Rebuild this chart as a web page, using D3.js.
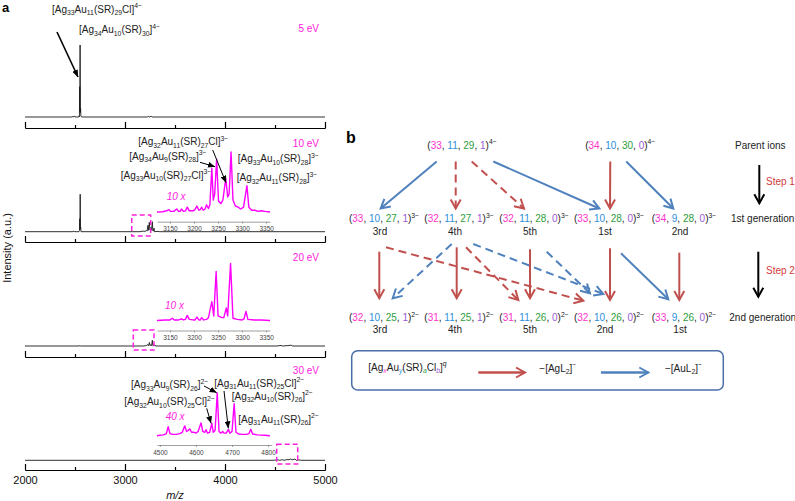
<!DOCTYPE html>
<html><head><meta charset="utf-8">
<script src="https://cdn.jsdelivr.net/npm/d3@7"></script>
<style>
body{margin:0;background:#fff}
svg{display:block}
text{font-family:"Liberation Sans",Arial,Helvetica,sans-serif}
</style>
</head><body>
<svg id="c" width="795" height="501"></svg>
<script>
// ---------------- DATA ----------------
const energies = ["5 eV", "10 eV", "20 eV", "30 eV"];
const mainTicks = [2000, 3000, 4000, 5000];
const minorTicks = [2500, 3500, 4500];
const insetTicksLow = [3150, 3200, 3250, 3300, 3350];
const insetTicksHigh = [4500, 4600, 4700, 4800];
const insetFactors = ["10 x", "10 x", "40 x"];

// main spectra [m/z, relative intensity]
const spec5 = [[2000,0],[2470,0],[2480,0.8],[2488,0],[2495,1.5],[2502,0],[2536,0],[2540,1.5],[2544,0.5],[2547,42],[2549,8],[2551,100],[2553,6],[2556,12],[2559,1],[2570,0],[3220,0],[3235,0.8],[3242,0],[3262,1],[3270,0],[5000,0]];
const spec10 = [[2000,0],[2480,0],[2490,1],[2497,0],[2540,0],[2545,1.5],[2548,18],[2550,3],[2552,52],[2554,4],[2557,6],[2560,0],[3150,0],[3180,0.8],[3200,0.5],[3215,1.5],[3222,1],[3230,9],[3236,2],[3243,13],[3250,2],[3256,2],[3260,6],[3266,2],[3273,14],[3279,1],[3284,1],[3290,5],[3295,0],[3330,0.5],[3340,0],[5000,0]];
const spec20 = [[2000,0],[2540,0],[2550,0.6],[2556,0],[3190,0],[3215,0.8],[3230,2],[3236,0.5],[3244,5],[3250,0.5],[3262,2],[3267,0.5],[3273,8],[3279,0.5],[3300,1.5],[3306,0],[4520,0],[4560,0.8],[4575,0],[4640,0.7],[4660,1.2],[4675,0],[5000,0]];
const spec30 = [[2000,0],[4480,0],[4530,0.6],[4545,0],[4575,0.8],[4590,0],[4620,1],[4640,0.8],[4658,2],[4668,0.5],[4680,1],[4700,1.8],[4712,0],[4750,0.6],[4760,0],[5000,0]];

// zoomed insets [m/z, relative intensity]
const inset10 = [[3123,0],[3135,0.5],[3143,2],[3148,4],[3151,1],[3158,1],[3164,5],[3168,1],[3171,1],[3174,5],[3178,1],[3182,2],[3186,8],[3190,2],[3198,2],[3202,4],[3206,10],[3210,3],[3213,4],[3216,8],[3219,3],[3223,5],[3226,12],[3230,6],[3233,12],[3237,73],[3240,20],[3243,30],[3247,88],[3251,18],[3256,14],[3260,20],[3266,56],[3270,25],[3273,30],[3277,100],[3281,20],[3286,10],[3292,8],[3297,5],[3303,8],[3310,44],[3314,8],[3320,3],[3327,3],[3332,1],[3340,2],[3348,1],[3358,0]];
const inset20 = [[3123,0],[3140,1],[3150,1],[3155,4],[3159,1],[3168,1],[3174,3],[3178,1],[3182,2],[3186,9],[3190,2],[3198,1],[3202,1],[3206,6],[3210,1],[3213,1],[3216,5],[3220,1],[3226,2],[3230,5],[3237,33],[3241,8],[3246,86],[3250,8],[3258,5],[3262,5],[3267,22],[3270,8],[3276,100],[3281,4],[3290,2],[3300,1],[3304,3],[3308,16],[3312,2],[3325,1],[3340,1],[3358,0]];
const inset30 = [[4492,0],[4500,1],[4510,2],[4518,5],[4523,21],[4528,5],[4535,3],[4545,3],[4555,5],[4562,8],[4569,23],[4574,10],[4578,12],[4583,16],[4588,8],[4595,8],[4600,6],[4606,10],[4614,30],[4619,10],[4624,8],[4628,14],[4632,6],[4638,8],[4644,29],[4648,8],[4653,12],[4659,100],[4664,10],[4669,6],[4674,10],[4678,6],[4684,6],[4690,15],[4694,6],[4700,10],[4706,75],[4711,8],[4718,4],[4728,3],[4740,3],[4747,5],[4752,15],[4757,4],[4770,2],[4790,1],[4805,0]];

// peak annotation labels
const labels5 = ["[Ag_{33}Au_{11}(SR)_{29}Cl]^{4−}", "[Ag_{34}Au_{10}(SR)_{30}]^{4−}"];
const labels10 = ["[Ag_{32}Au_{11}(SR)_{27}Cl]^{3−}", "[Ag_{34}Au_{9}(SR)_{28}]^{3−}", "[Ag_{33}Au_{10}(SR)_{27}Cl]^{3−}", "[Ag_{33}Au_{10}(SR)_{28}]^{3−}", "[Ag_{32}Au_{11}(SR)_{28}]^{3−}"];
const labels30 = ["[Ag_{33}Au_{9}(SR)_{26}]^{2−}", "[Ag_{31}Au_{11}(SR)_{25}Cl]^{2−}", "[Ag_{32}Au_{10}(SR)_{25}Cl]^{2−}", "[Ag_{32}Au_{10}(SR)_{26}]^{2−}", "[Ag_{31}Au_{11}(SR)_{26}]^{2−}"];

// panel b: (x, y, a, b)
const parents = [[33,11,29,1],[34,10,30,0]];
const gen1 = [[33,10,27,1],[32,11,27,1],[32,11,28,0],[33,10,28,0],[34,9,28,0]];
const gen2 = [[32,10,25,1],[31,11,25,1],[31,11,26,0],[32,10,26,0],[33,9,26,0]];
const charges = ["4−","3−","2−"];
const gen1Ranks = ["3rd","4th","5th","1st","2nd"];
const gen2Ranks = ["3rd","4th","5th","2nd","1st"];
const rowNames = ["Parent ions","1st generation","2nd generation"];
const stepNames = ["Step 1","Step 2"];
// edges: source, target, lost fragment, via Cl (dashed)
const step1Edges = [[0,0,"Au",false],[0,1,"Ag",true],[0,2,"Ag",true],[0,3,"Au",false],[1,3,"Ag",false],[1,4,"Au",false]];
const step2Edges = [[0,0,"Ag",false],[0,3,"Ag",true],[1,0,"Au",true],[1,1,"Ag",false],[1,2,"Ag",true],[1,3,"Au",true],[2,3,"Au",true],[2,2,"Ag",false],[3,3,"Ag",false],[3,4,"Au",false],[4,4,"Ag",false]];

// ---------------- LAYOUT / STYLE ----------------
const MAG = "#ff22dd", TRACE = "#ff00ff";
const NUMC = ["#ff33cc","#2b8fdb","#2e9e40","#9b59d6"];
const RED = "#c0504d", BLUE = "#4f81bd";
const svg = d3.select("#c");

function parseRich(str){
  const out=[]; const re=/_\{([^}]*)\}|\^\{([^}]*)\}|([^_^]+)/g; let m;
  while((m=re.exec(str))){ if(m[1]!==undefined) out.push({t:m[1],k:"sub"}); else if(m[2]!==undefined) out.push({t:m[2],k:"sup"}); else out.push({t:m[3],k:"n"}); }
  return out;
}
function rich(sel, segs, o){
  const t = sel.append("text").attr("x",o.x).attr("y",o.y).attr("font-size",o.size)
    .attr("text-anchor",o.anchor||"start").attr("fill",o.fill||"#222");
  if(o.italic) t.attr("font-style","italic");
  let cur=0;
  segs.forEach(s=>{
    const target = s.k==="sub" ? o.size*0.28 : s.k==="sup" ? -o.size*0.42 : 0;
    const ts = t.append("tspan").attr("dy", target-cur).text(s.t);
    if(s.k!=="n") ts.attr("font-size", o.size*0.68);
    if(s.c) ts.attr("fill", s.c);
    if(s.i) ts.attr("font-style","italic");
    cur = target;
  });
  return t;
}
const defs = svg.append("defs");
function openHead(id,color,w,l){
  defs.append("marker").attr("id",id).attr("markerUnits","userSpaceOnUse")
    .attr("markerWidth",l+4).attr("markerHeight",w+4).attr("refX",l+1).attr("refY",w/2+2)
    .attr("orient","auto").append("path")
    .attr("d",`M1,2 L${l+1},${w/2+2} L1,${w+2}`).attr("fill","none").attr("stroke",color)
    .attr("stroke-width",2).attr("stroke-dasharray","none");
}
openHead("hr",RED,10,9); openHead("hb",BLUE,10,9); openHead("hk","#000",10,9);
defs.append("marker").attr("id","hs").attr("markerUnits","userSpaceOnUse")
  .attr("markerWidth",8).attr("markerHeight",6).attr("refX",7).attr("refY",3).attr("orient","auto")
  .append("path").attr("d","M0,0 L7,3 L0,6 Z").attr("fill","#000");

// ---------------- PANEL a ----------------
svg.append("text").attr("x",2).attr("y",12).attr("font-size",13).attr("font-weight","bold").text("a");
const x = d3.scaleLinear().domain([2000,5000]).range([25,325]);
const panelBase = [117,231.7,346,460.3];
const panelAxis = [128,242,357,470];
const eVy = [31.6,146.9,260.9,373.6];
const specs = [spec5,spec10,spec20,spec30];

specs.forEach((s,i)=>{
  const y = d3.scaleLinear().domain([0,100]).range([panelBase[i], panelBase[i]-72]);
  svg.append("path").datum(s)
    .attr("d", d3.line().x(d=>x(d[0])).y(d=>y(d[1])))
    .attr("fill","none").attr("stroke","#1a1a1a").attr("stroke-width",0.9);
  const ax = svg.append("g").attr("transform",`translate(0,${panelAxis[i]})`)
    .call(d3.axisBottom(x).tickValues(mainTicks).tickSizeInner(-6).tickSizeOuter(0).tickPadding(6)
      .tickFormat(i===3 ? d3.format("d") : ()=>""));
  const mx = svg.append("g").attr("transform",`translate(0,${panelAxis[i]})`)
    .call(d3.axisBottom(x).tickValues(minorTicks).tickSizeInner(-3).tickSizeOuter(0).tickFormat(()=>""));
  [ax,mx].forEach(g=>{ g.selectAll("path,line").attr("stroke","#000").attr("stroke-width",1.2);
    g.selectAll("text").attr("font-size",11).attr("fill","#111").attr("font-family",'"Liberation Sans",Arial,sans-serif'); });
  svg.append("text").attr("x",319).attr("y",eVy[i]).attr("text-anchor","end")
    .attr("font-size",10).attr("fill",MAG).text(energies[i]);
});

svg.append("text").attr("x",175).attr("y",499).attr("text-anchor","middle").attr("font-size",11)
  .attr("font-style","italic").attr("fill","#111").text("m/z");
svg.append("text").attr("transform","translate(11,248) rotate(-90)").attr("text-anchor","middle")
  .attr("font-size",11).attr("fill","#111").text("Intensity (a.u.)");

const insets = [
  {data:inset10, dom:[3123,3358], rng:[157,270], base:212, top:152, axis:221.7, ticks:insetTicksLow, fx:166.7, fy:200},
  {data:inset20, dom:[3123,3358], rng:[157,270], base:320.5, top:263.5, axis:330.5, ticks:insetTicksLow, fx:165, fy:308.5},
  {data:inset30, dom:[4492,4810], rng:[157,271.7], base:435.7, top:393, axis:445, ticks:insetTicksHigh, fx:165.7, fy:420}
];
insets.forEach((d,i)=>{
  const xi = d3.scaleLinear().domain(d.dom).range(d.rng);
  const yi = d3.scaleLinear().domain([0,100]).range([d.base,d.top]);
  const g = svg.append("g").attr("transform",`translate(0,${d.axis})`)
    .call(d3.axisBottom(xi).tickValues(d.ticks).tickSize(2).tickPadding(3).tickSizeOuter(0).tickFormat(d3.format("d")));
  g.selectAll("path,line").attr("stroke","#888").attr("stroke-width",0.8);
  g.selectAll("text").attr("font-size",6.5).attr("fill","#444").attr("font-family",'"Liberation Sans",Arial,sans-serif');
  svg.append("path").datum(d.data)
    .attr("d", d3.line().x(p=>xi(p[0])).y(p=>yi(p[1])))
    .attr("fill","none").attr("stroke",TRACE).attr("stroke-width",1.4).attr("stroke-linejoin","round");
  svg.append("text").attr("x",d.fx).attr("y",d.fy).attr("font-size",10).attr("font-style","italic")
    .attr("fill",MAG).text(insetFactors[i]);
});

const zoomBoxes = [[131.7,215,150.7,236],[133.3,330,154,350],[276.7,444.3,297.7,464]];
zoomBoxes.forEach(b=>{
  svg.append("rect").attr("x",b[0]).attr("y",b[1]).attr("width",b[2]-b[0]).attr("height",b[3]-b[1])
    .attr("fill","none").attr("stroke",MAG).attr("stroke-width",1.5).attr("stroke-dasharray","5,3");
});

const lab5pos = [[52,12.5],[79,33]];
const lab10pos = [[138.3,145],[129.3,159.5],[120.7,178.5],[237.7,162],[236.7,181]];
const lab30pos = [[131,388],[214.3,386.5],[124.3,405],[231.7,399.5],[238.3,422.5]];
[[labels5,lab5pos],[labels10,lab10pos],[labels30,lab30pos]].forEach(([L,P])=>{
  L.forEach((s,i)=> rich(svg, parseRich(s), {x:P[i][0], y:P[i][1], size:10, fill:"#222"}));
});
const annArrows = [[57,32,78,77,1.6],[200,162.3,215,166.7,1],[212.7,150,226,182.7,1],
  [204,386,216.7,392.7,1],[224,391,228.3,428.3,1],[206.7,408.3,211,423.3,1]];
annArrows.forEach(a=>{
  svg.append("line").attr("x1",a[0]).attr("y1",a[1]).attr("x2",a[2]).attr("y2",a[3])
    .attr("stroke","#000").attr("stroke-width",a[4]).attr("marker-end","url(#hs)");
});

// ---------------- PANEL b ----------------
svg.append("text").attr("x",346).attr("y",143.3).attr("font-size",16).attr("font-weight","bold").text("b");
const col = d3.scaleLinear().domain([0,4]).range([384,684]);
const parentCols = [1.04, 3.15];
const rowY = [148.6, 222, 321];
const rankY = [235.3, 333];

function tupleSegs(v, q){
  const segs=[{t:"(",k:"n"}];
  v.forEach((n,j)=>{ segs.push({t:String(n),k:"n",c:NUMC[j]}); segs.push({t: j<3? ", " : ")", k:"n"}); });
  segs.push({t:q,k:"sup"});
  return segs;
}
parents.forEach((v,i)=> rich(svg, tupleSegs(v,charges[0]), {x:col(parentCols[i]), y:rowY[0], size:10, anchor:"middle"}));
gen1.forEach((v,i)=>{
  rich(svg, tupleSegs(v,charges[1]), {x:col(i), y:rowY[1], size:10, anchor:"middle"});
  svg.append("text").attr("x",col(i)-4).attr("y",rankY[0]).attr("text-anchor","middle").attr("font-size",10).attr("fill","#222").text(gen1Ranks[i]);
});
gen2.forEach((v,i)=>{
  rich(svg, tupleSegs(v,charges[2]), {x:col(i), y:rowY[2], size:10, anchor:"middle"});
  svg.append("text").attr("x",col(i)-4).attr("y",rankY[1]).attr("text-anchor","middle").attr("font-size",10).attr("fill","#222").text(gen2Ranks[i]);
});
const rowNameX = [735,731,729.3];
rowNames.forEach((n,i)=> svg.append("text").attr("x",rowNameX[i]).attr("y",rowY[i]).attr("font-size",10).attr("fill","#222").text(n));

const stepArrows = [[759.3,165,203.3,184.6],[758.3,251.7,296.7,273.6]];
stepArrows.forEach((s,i)=>{
  svg.append("line").attr("x1",s[0]).attr("x2",s[0]).attr("y1",s[1]).attr("y2",s[2])
    .attr("stroke","#000").attr("stroke-width",2).attr("marker-end","url(#hk)");
  svg.append("text").attr("x",766).attr("y",s[3]).attr("font-size",10).attr("fill","#d23a3a").text(stepNames[i]);
});

const step1Anchor = [[-25.3,161.5,-3.3,208.5],[-6.3,161.5,-3.3,208.5],[9.7,161.5,-10,208.5],[31.3,161.5,-9.7,208.5],[-10,161.5,1,208.5],[6,161.5,-10.7,208.5]];
const step2Anchor = [[-4.7,251.7,-4.7,298.3],[2,247.3,-25.7,300.7],[-7.3,244,8.7,298.3],[-2.3,247.3,-2.3,298.3],[7,247.3,-15.7,300],[14.3,244,-5.7,294],[12.7,251.7,-19,293.3],[-4,249.3,-4,298.3],[1,248.3,1,300],[12,253.3,-15.7,299.3],[-4.7,252.7,-4.7,300]];
function drawEdges(edges, anchors, srcX){
  edges.forEach((e,i)=>{
    const a = anchors[i];
    const isAg = e[2]==="Ag";
    svg.append("line").attr("x1",srcX(e[0])+a[0]).attr("y1",a[1]).attr("x2",col(e[1])+a[2]).attr("y2",a[3])
      .attr("stroke", isAg?RED:BLUE).attr("stroke-width",2)
      .attr("stroke-dasharray", e[3] ? "8,5" : null)
      .attr("marker-end", isAg?"url(#hr)":"url(#hb)");
  });
}
drawEdges(step1Edges, step1Anchor, i=>col(parentCols[i]));
drawEdges(step2Edges, step2Anchor, i=>col(i));

svg.append("rect").attr("x",351.7).attr("y",350.7).attr("width",371.6).attr("height",39.3).attr("rx",6)
  .attr("fill","none").attr("stroke","#4a6ea8").attr("stroke-width",1.5);
rich(svg, [{t:"[Ag",k:"n"},{t:"x",k:"sub",c:NUMC[0],i:true},{t:"Au",k:"n"},{t:"y",k:"sub",c:NUMC[1],i:true},
  {t:"(SR)",k:"n"},{t:"a",k:"sub",c:NUMC[2],i:true},{t:"Cl",k:"n"},{t:"b",k:"sub",c:NUMC[3],i:true},{t:"]",k:"n"},{t:"q",k:"sup",i:true}],
  {x:368.3, y:370.5, size:10});
svg.append("line").attr("x1",478.3).attr("x2",525).attr("y1",372.5).attr("y2",372.5)
  .attr("stroke",RED).attr("stroke-width",2.5).attr("marker-end","url(#hr)");
svg.append("line").attr("x1",601).attr("x2",648.3).attr("y1",372.5).attr("y2",372.5)
  .attr("stroke",BLUE).attr("stroke-width",2.5).attr("marker-end","url(#hb)");
rich(svg, parseRich("−[AgL_{2}]^{−}"), {x:539.3, y:371.5, size:10});
rich(svg, parseRich("−[AuL_{2}]^{−}"), {x:665, y:371.5, size:10});
</script>
</body></html>
